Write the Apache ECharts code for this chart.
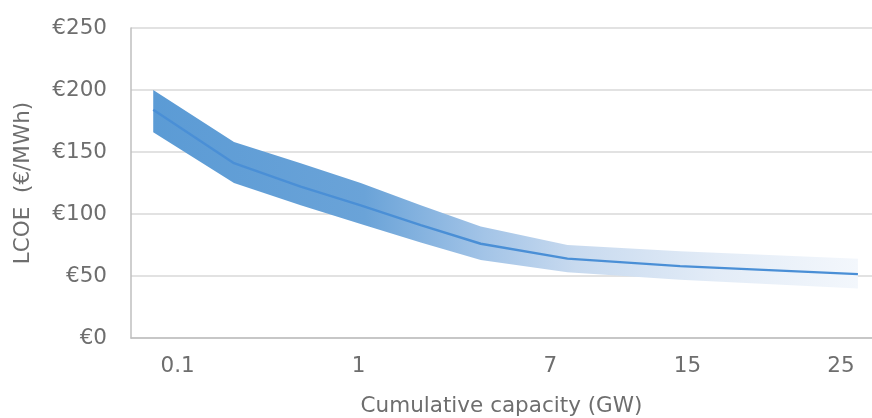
<!DOCTYPE html>
<html>
<head>
<meta charset="utf-8">
<script src="https://cdn.jsdelivr.net/npm/echarts@6/dist/echarts.min.js"></script>
<style>html,body{margin:0;padding:0;background:#fff}#c{width:872px;height:418px}</style>
</head>
<body>
<div id="c"></div>
<script>
// Position of each data point along the (non-linear) capacity axis, 0..100
var xPos = [3, 13.9, 22.9, 31, 39.1, 47.2, 58.9, 74.1, 98.1];
// Central LCOE estimate (€/MWh)
var midValues = [184, 141, 122, 107, 91, 76, 64, 58, 51.5];
// Upper and lower bounds of the range (€/MWh)
var upperValues = [200, 158, 141, 125, 107, 90, 75, 70, 64];
var lowerValues = [166, 125, 107, 92, 77, 63, 53, 47, 40];
// X tick labels and their positions on the axis
var tickLabels = ['0.1', '1', '7', '15', '25'];
var tickPos = [6.3, 30.7, 56.6, 75.1, 95.8];

var font = 'DejaVu Sans';
var txt = '#6e6e6e';
var fs = 21.5;

function pairs(ys) { return xPos.map(function (x, i) { return [x, ys[i]]; }); }

var chart = echarts.init(document.getElementById('c'), null, { renderer: 'canvas' });
chart.setOption({
  animation: false,
  grid: { left: 131, right: 0, top: 28, bottom: 80, containLabel: false, outerBoundsMode: 'none' },
  xAxis: {
    type: 'value', min: 0, max: 100,
    name: 'Cumulative capacity (GW)', nameLocation: 'middle', nameGap: 57,
    nameTextStyle: { fontFamily: font, fontSize: fs, color: txt },
    axisLine: { show: true, lineStyle: { color: '#bfbfbf', width: 1.5 } },
    axisTick: { show: false },
    splitLine: { show: false },
    axisLabel: {
      customValues: tickPos, margin: 17,
      fontFamily: font, fontSize: fs, color: txt,
      formatter: function (v) {
        var best = 0;
        for (var i = 1; i < tickPos.length; i++) if (Math.abs(tickPos[i] - v) < Math.abs(tickPos[best] - v)) best = i;
        return tickLabels[best];
      }
    }
  },
  yAxis: {
    type: 'value', min: 0, max: 250, interval: 50,
    name: 'LCOE  (€/MWh)', nameLocation: 'middle', nameGap: 97,
    nameTextStyle: { fontFamily: font, fontSize: fs, color: txt },
    axisLine: { show: true, lineStyle: { color: '#bfbfbf', width: 1.5 } },
    axisTick: { show: false },
    splitLine: { lineStyle: { color: '#d9d9d9', width: 1.5 } },
    axisLabel: { margin: 24, fontFamily: font, fontSize: fs, color: txt, formatter: function (v) { return '€' + v; } }
  },
  series: [
    {
      type: 'custom', data: [[xPos[0], upperValues[0]]], silent: true,
      renderItem: function (params, api) {
        var pts = [];
        for (var i = 0; i < xPos.length; i++) pts.push(api.coord([xPos[i], upperValues[i]]));
        for (var j = xPos.length - 1; j >= 0; j--) pts.push(api.coord([xPos[j], lowerValues[j]]));
        return {
          type: 'polygon',
          shape: { points: pts },
          style: {
            fill: new echarts.graphic.LinearGradient(0, 0, 1, 0, [
              { offset: 0, color: '#5b9bd5' },
              { offset: 0.3, color: '#6aa3d8' },
              { offset: 0.47, color: '#a3c4e7' },
              { offset: 0.6, color: '#c8daef' },
              { offset: 0.8, color: '#e3ecf7' },
              { offset: 1, color: '#f3f7fc' }
            ])
          }
        };
      }
    },
    {
      type: 'line', data: pairs(midValues), symbol: 'none',
      lineStyle: { color: '#4a8fd6', width: 2.4 }
    }
  ]
});
</script>
</body>
</html>
